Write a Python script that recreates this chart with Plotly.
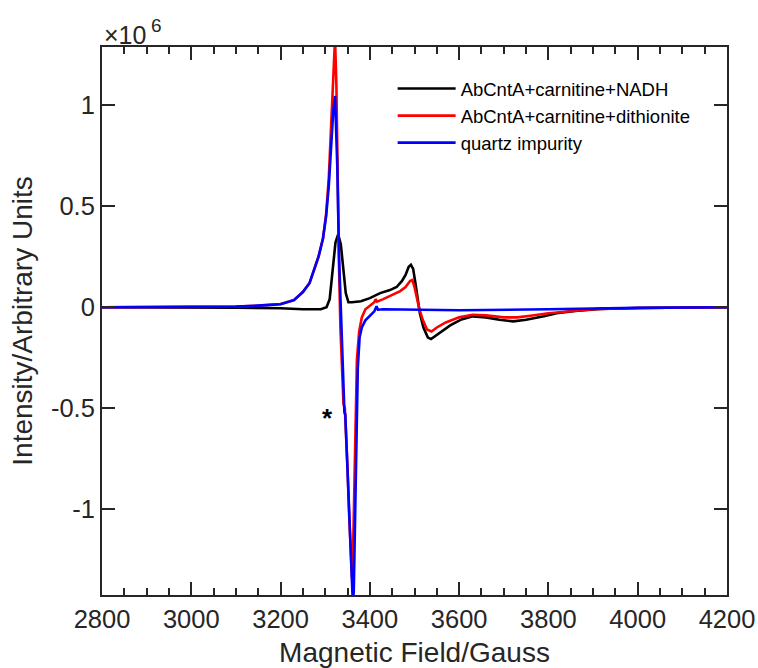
import plotly.graph_objects as go

# ---- data (intensity in units of 10^6) ----
nadh_field = [2800, 3000, 3100, 3200, 3250, 3290, 3303, 3310, 3317, 3323, 3329, 3335, 3341, 3346, 3352,
              3360, 3380, 3400, 3423, 3445, 3460, 3472, 3480, 3487, 3492, 3497, 3502, 3507, 3512,
              3520, 3530, 3537, 3545, 3557, 3580, 3605, 3631, 3660, 3690, 3721, 3750, 3790, 3818,
              3860, 3915, 4000, 4200]
nadh_int = [0.0, 0.0, -0.002, -0.005, -0.01, -0.01, 0.0, 0.04, 0.18, 0.32, 0.36, 0.31, 0.18, 0.07, 0.025,
            0.025, 0.03, 0.045, 0.07, 0.085, 0.1, 0.13, 0.16, 0.2, 0.21, 0.19, 0.12, 0.04, -0.03,
            -0.1, -0.15, -0.157, -0.145, -0.127, -0.09, -0.06, -0.045, -0.05, -0.062, -0.07, -0.062, -0.045, -0.03,
            -0.018, -0.008, -0.004, 0.0]

dith_field = [2800, 3000, 3100, 3150, 3200, 3230, 3250, 3265, 3275, 3285, 3295, 3302, 3308, 3313, 3317,
              3320, 3322, 3325, 3328, 3331, 3334, 3338, 3341, 3344, 3347, 3350, 3354, 3358, 3360,
              3362, 3365, 3368, 3371, 3376, 3382, 3390, 3400, 3410, 3413, 3416, 3430, 3450, 3468,
              3480, 3490, 3495, 3500, 3505, 3510, 3518, 3528, 3538, 3550, 3570, 3600, 3630, 3660,
              3700, 3730, 3760, 3800, 3850, 3900, 4000, 4200]
dith_int = [0.0, 0.0, 0.003, 0.008, 0.016, 0.036, 0.075, 0.12, 0.18, 0.25, 0.34, 0.46, 0.64, 0.9, 1.15,
            1.3, 1.33, 1.1, 0.6, 0.2, -0.1, -0.3, -0.48, -0.5, -0.62, -0.8, -1.05, -1.3, -1.34,
            -1.25, -0.85, -0.5, -0.26, -0.12, -0.05, -0.01, 0.01, 0.025, 0.04, 0.028, 0.04, 0.06, 0.08,
            0.1, 0.13, 0.135, 0.1, 0.05, 0.0, -0.06, -0.11, -0.12, -0.1, -0.075, -0.05, -0.037, -0.04,
            -0.05, -0.05, -0.042, -0.03, -0.02, -0.01, -0.004, 0.0]

quartz_field = [2800, 3000, 3100, 3150, 3200, 3230, 3250, 3265, 3275, 3285, 3295, 3302, 3308, 3314, 3318,
                3322, 3327, 3331, 3335, 3338, 3341, 3343, 3345, 3347, 3349, 3352, 3356, 3360, 3362,
                3364, 3367, 3370, 3373, 3377, 3382, 3390, 3400, 3410, 3415, 3418, 3430, 3500, 3600,
                3800, 4000, 4200]
quartz_int = [0.0, 0.0, 0.003, 0.008, 0.015, 0.035, 0.075, 0.12, 0.18, 0.25, 0.34, 0.45, 0.6, 0.82, 0.97,
              1.045, 0.7, 0.25, 0.0, -0.2, -0.45, -0.52, -0.53, -0.65, -0.78, -0.9, -1.15, -1.4, -1.47,
              -1.4, -1.0, -0.6, -0.3, -0.15, -0.1, -0.065, -0.04, -0.02, 0.005, -0.012, -0.01, -0.012, -0.015,
              -0.01, -0.003, 0.0]

series_names = ["AbCntA+carnitine+NADH", "AbCntA+carnitine+dithionite", "quartz impurity"]
series_colors = ["#000000", "#ff0000", "#0000ff"]

x_tickvals = [2800, 3000, 3200, 3400, 3600, 3800, 4000, 4200]
x_ticktext = ["2800", "3000", "3200", "3400", "3600", "3800", "4000", "4200"]
y_tickvals = [-1, -0.5, 0, 0.5, 1]
y_ticktext = ["-1", "-0.5", "0", "0.5", "1"]

x_title = "Magnetic Field/Gauss"
y_title = "Intensity/Arbitrary Units"

FONT = "Liberation Sans, Arial, Helvetica, sans-serif"
AX = "#262626"

fig = go.Figure()
for fx, fy, name, col in zip([nadh_field, dith_field, quartz_field],
                             [nadh_int, dith_int, quartz_int],
                             series_names, series_colors):
    fig.add_trace(go.Scatter(x=fx, y=fy, mode="lines", name=name,
                             line=dict(color=col, width=2.6)))

axis_common = dict(showline=True, linewidth=2, linecolor=AX, mirror="ticks",
                   ticks="inside", tickwidth=2, tickcolor=AX, showgrid=False,
                   zeroline=False, automargin=False,
                   tickfont=dict(family=FONT, size=25.5, color=AX))

fig.update_xaxes(range=[2800, 4200], tickvals=x_tickvals, ticktext=x_ticktext, ticklen=13,
                 minor=dict(ticks="inside", ticklen=7, tickwidth=2, tickcolor=AX, dtick=50, tick0=2800),
                 title=dict(text=x_title, font=dict(family=FONT, size=28, color=AX), standoff=13),
                 **axis_common)
fig.update_yaxes(range=[-1.423, 1.287], tickvals=y_tickvals, ticktext=y_ticktext, ticklen=13,
                 title=dict(text=y_title, font=dict(family=FONT, size=28, color=AX), standoff=10),
                 **axis_common)

fig.add_annotation(text="×10", xref="paper", yref="paper", x=0.0, y=1.0, xanchor="left", yanchor="bottom",
                   showarrow=False, font=dict(family=FONT, size=25, color=AX), xshift=0, yshift=-4)
fig.add_annotation(text="6", xref="paper", yref="paper", x=0.0, y=1.0, xanchor="left", yanchor="bottom",
                   showarrow=False, font=dict(family=FONT, size=19, color=AX), xshift=47, yshift=9)
fig.add_annotation(text="<b>*</b>", x=3306, y=-0.53, showarrow=False, yshift=-4,
                   font=dict(family=FONT, size=26, color="#000000"))

fig.update_layout(
    width=758, height=668,
    margin=dict(l=102, r=31, t=47, b=73, pad=0),
    paper_bgcolor="white", plot_bgcolor="white",
    font=dict(family=FONT, color=AX),
    showlegend=True,
    legend=dict(x=0.465, y=0.958, xanchor="left", yanchor="top", bgcolor="rgba(0,0,0,0)",
                borderwidth=0, font=dict(family=FONT, size=18.5, color="#000000"),
                itemwidth=58, tracegroupgap=0),
)

# remove the default page margin so the figure fills the window exactly
fig.write_html("out.html",
               config={"displayModeBar": False},
               post_script="document.body.style.margin='0';document.body.style.overflow='hidden';")
